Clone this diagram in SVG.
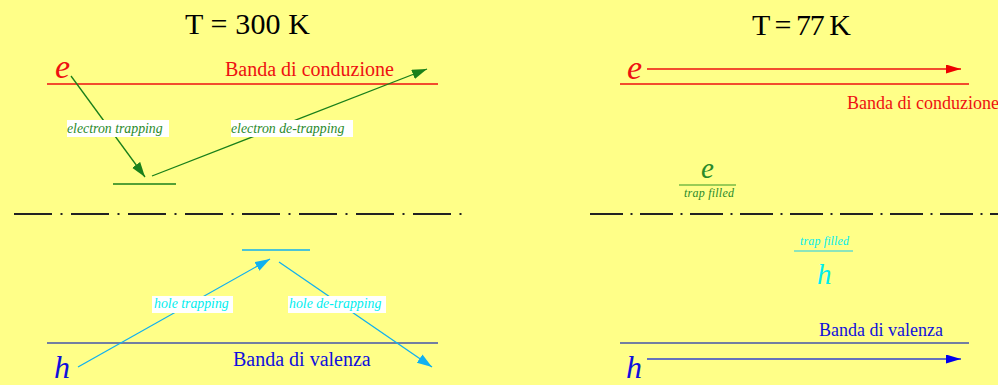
<svg xmlns="http://www.w3.org/2000/svg" width="998" height="385" viewBox="0 0 998 385">
<style>
text{font-family:"Liberation Serif","Times New Roman",serif}
.it{font-style:italic}
.title{font-size:30px;fill:#000}
.band{font-size:20px}
.lbl{font-size:13.8px;font-style:italic}
.dd{stroke:#222;stroke-width:2;fill:none}
</style>
<defs>
<marker id="ag" markerUnits="userSpaceOnUse" markerWidth="16" markerHeight="12" refX="15" refY="5" orient="auto"><path d="M0,0 L15,5 L0,10 z" fill="#1a801a"/></marker>
<marker id="ac" markerUnits="userSpaceOnUse" markerWidth="16" markerHeight="12" refX="15" refY="5" orient="auto"><path d="M0,0 L15,5 L0,10 z" fill="#10b0f0"/></marker>
<marker id="ar" markerUnits="userSpaceOnUse" markerWidth="16" markerHeight="12" refX="15" refY="4.5" orient="auto"><path d="M0,0 L15,4.5 L0,9 z" fill="#ee0000"/></marker>
<marker id="ab" markerUnits="userSpaceOnUse" markerWidth="16" markerHeight="12" refX="15" refY="4.5" orient="auto"><path d="M0,0 L15,4.5 L0,9 z" fill="#0000ee"/></marker>
</defs>
<rect x="0" y="0" width="998" height="385" fill="#ffff88"/>

<g id="left-panel">
<text class="title" x="185" y="34" textLength="125">T = 300 K</text>
<g id="cond-band-left">
<line x1="47" y1="84" x2="438" y2="84" stroke="#ee1111" stroke-width="1.5"/>
<text class="band" x="225" y="76" fill="#ee1111">Banda di conduzione</text>
</g>
<g id="e-left"><text class="it" x="55" y="78" font-size="34" fill="#ee1111">e</text></g>
<g id="e-trap-level"><line x1="113" y1="184" x2="176" y2="184" stroke="#1a801a" stroke-width="1.5"/></g>
<g id="midgap-left"><line class="dd" x1="14" y1="214" x2="468" y2="214" stroke-dasharray="38 8.5 2 8.5"/></g>
<g id="h-trap-level"><line x1="242" y1="250" x2="310" y2="250" stroke="#10b0f0" stroke-width="1.5"/></g>
<g id="val-band-left">
<line x1="47" y1="343" x2="438" y2="343" stroke="#4455aa" stroke-width="1.5"/>
<text class="band" x="233" y="366" fill="#1010dd">Banda di valenza</text>
</g>
<g id="h-left"><text class="it" x="54" y="378" font-size="32" fill="#1010dd">h</text></g>
</g>

<g id="connectors">
<line x1="71" y1="76" x2="145" y2="177" stroke="#1a801a" stroke-width="1.3" marker-end="url(#ag)"/>
<line x1="152" y1="176" x2="427" y2="69" stroke="#1a801a" stroke-width="1.3" marker-end="url(#ag)"/>
<line x1="78" y1="367" x2="270" y2="259" stroke="#10b0f0" stroke-width="1.3" marker-end="url(#ac)"/>
<line x1="279" y1="262" x2="432" y2="367" stroke="#10b0f0" stroke-width="1.3" marker-end="url(#ac)"/>
<line x1="647" y1="69" x2="961" y2="69" stroke="#ee1111" stroke-width="1.5" marker-end="url(#ar)"/>
<line x1="647" y1="359" x2="961" y2="359" stroke="#3344cc" stroke-width="1.5" marker-end="url(#ab)"/>
</g>

<g id="label-e-trapping">
<rect x="67" y="120" width="102" height="17" fill="#fff"/>
<text class="lbl" x="67" y="133" fill="#2a8a2a">electron trapping</text>
</g>
<g id="label-e-detrapping">
<rect x="231" y="120" width="122" height="17" fill="#fff"/>
<text class="lbl" x="231" y="133" fill="#2a8a2a">electron de-trapping</text>
</g>
<g id="label-h-trapping">
<rect x="152" y="296" width="81" height="17" fill="#fff"/>
<text class="lbl" x="154" y="308" fill="#00eeee">hole trapping</text>
</g>
<g id="label-h-detrapping">
<rect x="288" y="296" width="98" height="17" fill="#fff"/>
<text class="lbl" x="289" y="308" fill="#00eeee">hole de-trapping</text>
</g>

<g id="right-panel">
<text class="title" x="752" y="35" textLength="99">T = 77 K</text>
<g id="e-right"><text class="it" x="627" y="79" font-size="34" fill="#ee1111">e</text></g>
<g id="cond-band-right">
<line x1="620" y1="84" x2="969" y2="84" stroke="#ee1111" stroke-width="1.5"/>
<text x="847" y="109" font-size="18" fill="#ee1111">Banda di conduzione</text>
</g>
<g id="e-trap-filled">
<text class="it" x="701" y="178" font-size="29" fill="#2a8a2a">e</text>
<line x1="679" y1="185" x2="736" y2="185" stroke="#77bb44" stroke-width="1.5"/>
<text class="it" x="684" y="197" font-size="12" fill="#2a8a2a" textLength="50">trap filled</text>
</g>
<g id="midgap-right"><line class="dd" x1="590" y1="214" x2="998" y2="214" stroke-dasharray="33 7.5 2 7.5"/></g>
<g id="h-trap-filled">
<text class="it" x="800" y="245" font-size="12" fill="#00eeee" textLength="49">trap filled</text>
<line x1="794" y1="251" x2="853" y2="251" stroke="#66ddcc" stroke-width="1.5"/>
<text class="it" x="817" y="284" font-size="29" fill="#00eeee">h</text>
</g>
<g id="val-band-right">
<text x="819" y="336" font-size="18" fill="#1010dd">Banda di valenza</text>
<line x1="620" y1="343" x2="969" y2="343" stroke="#4455aa" stroke-width="1.5"/>
</g>
<g id="h-right"><text class="it" x="626" y="378" font-size="32" fill="#1010dd">h</text></g>
</g>
</svg>
